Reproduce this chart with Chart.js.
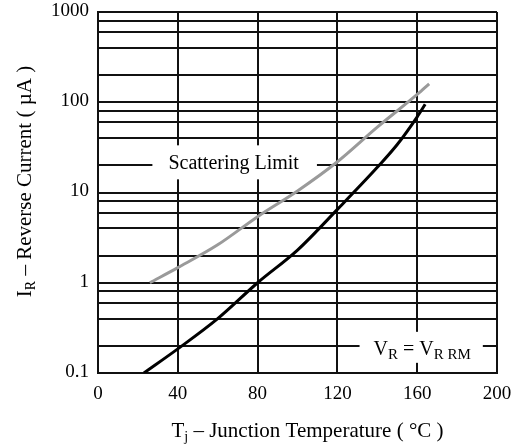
<!DOCTYPE html>
<html lang="en">

<head>
    <meta charset="UTF-8">
    <title>Reverse Current vs Junction Temperature</title>
    <script src="https://cdn.jsdelivr.net/npm/chart.js"></script>
    <style>
        body {
            margin: 0;
            background: #fff;
        }

        #wrap {
            width: 516px;
            height: 445px;
        }
    </style>
</head>

<body>
    <div id="wrap"><canvas id="irChart" width="516" height="445"></canvas></div>

    <script>
        // typical curve, V_R = V_RRM
        const typTemp = [23, 40, 60, 80, 100, 120, 140, 150, 160, 164];
        const typCurrent = [0.1, 0.185, 0.4, 1.0, 2.3, 6.5, 19, 34, 69, 95];

        // scattering limit curve
        const limTemp = [26, 40, 60, 80, 100, 120, 140, 160, 166];
        const limCurrent = [1.0, 1.47, 2.63, 5.4, 10.4, 21.9, 53, 122, 160];

        const xTicks = [0, 40, 80, 120, 160, 200];
        const yGrid = [0.1, 0.2, 0.4, 0.6, 0.8, 1, 2, 4, 6, 8, 10, 20, 40, 60, 80, 100, 200, 400, 600, 800, 1000];
        const yLabelled = [0.1, 1, 10, 100, 1000];

        const serif = '"Liberation Serif", "Times New Roman", serif';

        // draws text pieces, some of them as subscripts; returns total width
        function drawRuns(ctx, runs, cx, baseline, size, subSize) {
            let w = 0;
            runs.forEach(r => {
                ctx.font = (r[1] ? subSize : size) + 'px ' + serif;
                w += ctx.measureText(r[0]).width;
            });
            let x = cx - w / 2;
            ctx.textAlign = 'left';
            ctx.textBaseline = 'alphabetic';
            runs.forEach(r => {
                ctx.font = (r[1] ? subSize : size) + 'px ' + serif;
                ctx.fillText(r[0], x, baseline + (r[1] ? 4 : 0));
                x += ctx.measureText(r[0]).width;
            });
            return w;
        }

        // text labels sitting on a grid line, with the grid blanked out behind them
        const labelPlugin = {
            id: 'labels',
            beforeDatasetsDraw(chart) {
                const ctx = chart.ctx;
                const xs = chart.scales.x, ys = chart.scales.y;
                ctx.save();
                ctx.fillStyle = '#000';

                // Scattering Limit
                let cx = xs.getPixelForValue(68);
                let gy = ys.getPixelForValue(20);
                ctx.font = '20px ' + serif;
                let w = ctx.measureText('Scattering Limit').width;
                ctx.fillStyle = '#fff';
                ctx.fillRect(cx - w / 2 - 16, gy - 20, w + 34, 34);
                ctx.fillStyle = '#000';
                drawRuns(ctx, [['Scattering Limit', false]], cx, gy + 4, 20, 14);

                // V_R = V_RRM
                const vr = [['V', false], ['R', true], [' = ', false], ['V', false], ['R RM', true]];
                cx = xs.getPixelForValue(162.5);
                gy = ys.getPixelForValue(0.2);
                ctx.globalAlpha = 0;
                w = drawRuns(ctx, vr, cx, gy, 20, 15);
                ctx.globalAlpha = 1;
                ctx.fillStyle = '#fff';
                ctx.fillRect(cx - w / 2 - 14, gy - 14, w + 26, 31);
                ctx.fillStyle = '#000';
                drawRuns(ctx, vr, cx, gy + 9, 20, 15);
                ctx.restore();
            },
            afterDraw(chart) {
                const ctx = chart.ctx;
                const area = chart.chartArea;
                ctx.save();
                ctx.fillStyle = '#000';

                // x axis title
                drawRuns(ctx, [['T', false], ['j', true], [' \u2013 Junction Temperature ( \u00B0C )', false]],
                    (area.left + area.right) / 2 + 10, area.bottom + 64, 21, 14);

                // y axis title, rotated
                ctx.translate(31, (area.top + area.bottom) / 2 - 11);
                ctx.rotate(-Math.PI / 2);
                drawRuns(ctx, [['I', false], ['R', true], [' \u2013 Reverse Current ( \u00B5A )', false]], 0, 0, 21, 14);
                ctx.restore();
            }
        };

        const ctx = document.getElementById('irChart').getContext('2d');
        const irChart = new Chart(ctx, {
            type: 'line',
            data: {
                datasets: [{
                    label: 'Scattering Limit',
                    data: limTemp.map((t, i) => ({ x: t, y: limCurrent[i] })),
                    borderColor: '#9a9a9a',
                    borderWidth: 3,
                    pointRadius: 0,
                    cubicInterpolationMode: 'monotone'
                }, {
                    label: 'V_R = V_RRM',
                    data: typTemp.map((t, i) => ({ x: t, y: typCurrent[i] })),
                    borderColor: '#000',
                    borderWidth: 3,
                    pointRadius: 0,
                    cubicInterpolationMode: 'monotone'
                }]
            },
            options: {
                responsive: false,
                maintainAspectRatio: false,
                animation: false,
                layout: {
                    padding: { left: 0, right: 19, top: 12, bottom: 0 }
                },
                plugins: {
                    legend: { display: false },
                    tooltip: { enabled: false }
                },
                scales: {
                    x: {
                        type: 'linear',
                        min: 0,
                        max: 200,
                        afterBuildTicks: axis => { axis.ticks = xTicks.map(v => ({ value: v })); },
                        afterFit: axis => {
                            axis.height = 72;
                            axis.paddingLeft = 0;
                            axis.paddingRight = 0;
                        },
                        grid: { color: '#111', lineWidth: 2, drawTicks: false },
                        border: { color: '#111', width: 2 },
                        ticks: {
                            padding: 10,
                            color: '#000',
                            font: { family: serif, size: 19 }
                        }
                    },
                    y: {
                        type: 'logarithmic',
                        min: 0.1,
                        max: 1000,
                        afterBuildTicks: axis => { axis.ticks = yGrid.map(v => ({ value: v })); },
                        afterFit: axis => {
                            axis.width = 98;
                            axis.paddingTop = 0;
                            axis.paddingBottom = 0;
                        },
                        grid: { color: '#111', lineWidth: 2, drawTicks: false },
                        border: { color: '#111', width: 2 },
                        ticks: {
                            autoSkip: false,
                            padding: 9,
                            labelOffset: -1,
                            color: '#000',
                            font: { family: serif, size: 19 },
                            callback: v => yLabelled.includes(v) ? String(v) : ''
                        }
                    }
                }
            },
            plugins: [labelPlugin]
        });
    </script>
</body>

</html>
